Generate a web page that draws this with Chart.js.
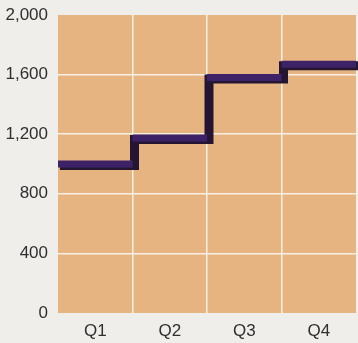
<!DOCTYPE html>
<html>
<head>
<meta charset="utf-8">
<title>Quarterly steps</title>
<script src="https://cdn.jsdelivr.net/npm/chart.js@4/dist/chart.umd.min.js"></script>
<style>
    html, body { margin: 0; padding: 0; background: #efeeeb; }
    #wrap { width: 358px; height: 343px; }
</style>
</head>
<body>
<div id="wrap"><canvas id="steps_line" width="358" height="343"></canvas></div>
<script>
var quarters     = [ "Q1", "Q2", "Q3", "Q4" ],
    levels       = [ 1000, 1175, 1580, 1670 ],
    y_min        = 0,
    y_max        = 2000,
    y_step       = 400;

var PANEL_COLOR  = "#e6b480",
    GRID_COLOR   = "#f7f0e3",
    FACE_COLOR   = "#3e2268",
    EDGE_COLOR   = "#241632",
    TEXT_COLOR   = "#2f2f2f",
    FONT         = { family: "'Liberation Sans Narrow', 'Liberation Sans', sans-serif", size: 17 };

var Grafico = Grafico || function () {
    return {

        // whole stepped ribbon, one point per quarter boundary
        puntiScalino: function puntiScalino()
        {
            var punti = levels.map( function( v, i ){ return { x: i, y: v }; } );
            punti.push( { x: levels.length, y: levels[ levels.length - 1 ] } );
            return punti;
        },

        // only the flat tops, broken at each step
        puntiPiani: function puntiPiani()
        {
            var punti = [];
            levels.forEach( function( v, i ){
                punti.push( { x: i, y: v }, { x: i + 1, y: v }, { x: i + 1, y: null } );
            } );
            return punti;
        },

        sfondo: {
            id: "sfondo",
            beforeDraw: function( chart ) {
                var a = chart.chartArea, ctx = chart.ctx;
                ctx.save();
                ctx.fillStyle = PANEL_COLOR;
                ctx.fillRect( a.left, a.top, a.right - a.left, a.bottom - a.top );
                ctx.restore();
            }
        },

        // pushes the dark ribbon a little down-right so it reads as depth
        spessore: {
            id: "spessore",
            beforeDatasetDraw: function( chart, args ) {
                if ( args.index !== 1 ) return;
                chart.ctx.save();
                chart.ctx.translate( 2, 1.5 );
            },
            afterDatasetDraw: function( chart, args ) {
                if ( args.index !== 1 ) return;
                chart.ctx.restore();
            }
        },

        disegna: function disegna()
        {
            var ctx = document.getElementById( "steps_line" ).getContext( "2d" );

            this.grafico = new Chart( ctx, {
                type   : "line",
                data   : {
                    labels  : quarters,
                    datasets: [
                        {
                            data: this.puntiPiani(), xAxisID: "x2",
                            borderColor: FACE_COLOR, borderWidth: 7, borderCapStyle: "butt",
                            pointRadius: 0, spanGaps: false, fill: false
                        },
                        {
                            data: this.puntiScalino(), xAxisID: "x2", stepped: true,
                            borderColor: EDGE_COLOR, borderWidth: 9, borderCapStyle: "butt", borderJoinStyle: "miter",
                            pointRadius: 0, fill: false
                        }
                    ]
                },
                options: {
                    responsive: false,
                    animation : false,
                    layout    : { padding: { top: 15, right: 2, left: 0, bottom: 0 } },
                    plugins   : { legend: { display: false }, tooltip: { enabled: false } },
                    scales    : {
                        x : {
                            type  : "category",
                            offset: true,
                            border: { display: false },
                            grid  : {
                                offset: true, drawTicks: false, lineWidth: 1.5,
                                color : function( c ){ return ( c.type !== "tick" || c.index === 0 ) ? "transparent" : GRID_COLOR; }
                            },
                            ticks : { color: TEXT_COLOR, font: FONT, padding: 8 },
                            afterFit: function( s ){ s.height = 30; s.paddingLeft = 0; s.paddingRight = 0; }
                        },
                        x2: { type: "linear", min: 0, max: quarters.length, display: false },
                        y : {
                            min   : y_min,
                            max   : y_max,
                            border: { display: false },
                            grid  : {
                                drawTicks: false, lineWidth: 1.5,
                                color: function( c ){ return ( c.tick && ( c.tick.value === y_min || c.tick.value === y_max ) ) ? "transparent" : GRID_COLOR; }
                            },
                            ticks : { stepSize: y_step, color: TEXT_COLOR, font: FONT, padding: 10 },
                            afterFit: function( s ){ s.width = 58; s.paddingTop = 0; s.paddingBottom = 0; }
                        }
                    }
                },
                plugins: [ this.sfondo, this.spessore ]
            } );
        },

        init: function init() {
            this.disegna();
        }
    };
}();

Grafico.init();
</script>
</body>
</html>
